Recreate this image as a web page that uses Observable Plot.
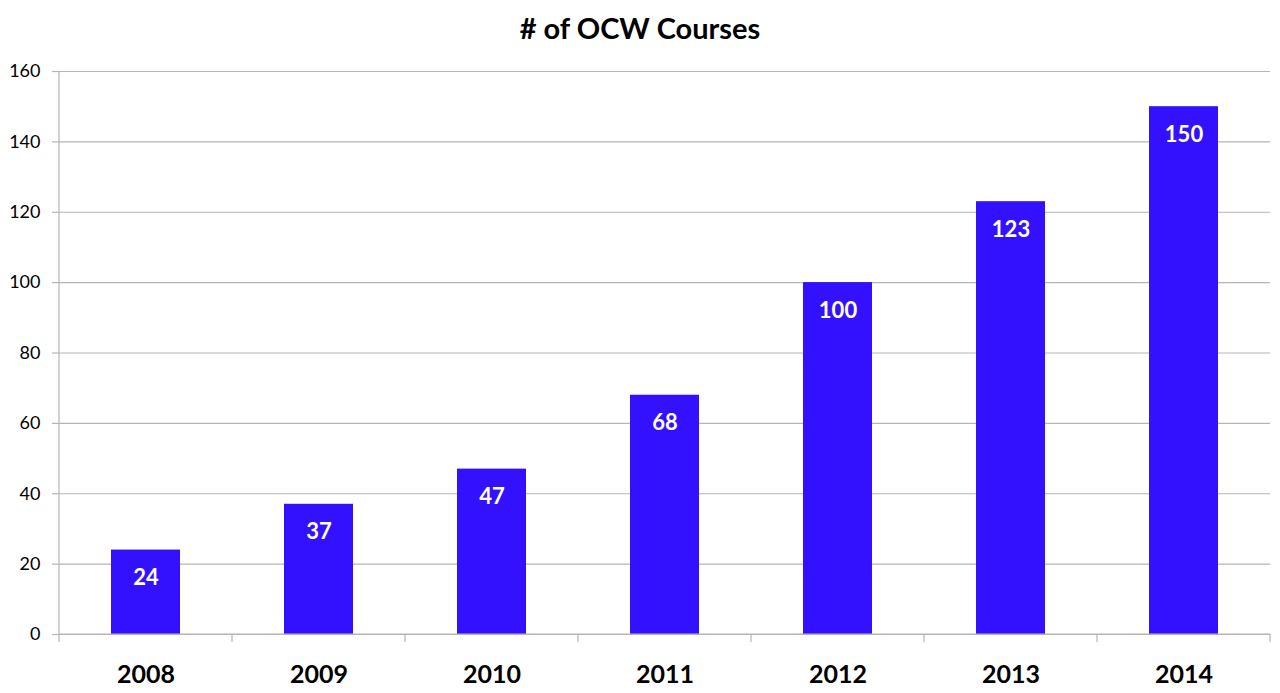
<!DOCTYPE html>
<html>
<head>
<meta charset="utf-8">
<script src="https://cdn.jsdelivr.net/npm/d3@7"></script>
<script src="https://cdn.jsdelivr.net/npm/@observablehq/plot@0.6"></script>
<style>
  body { margin: 0; background: #fff; font-family: Lato, "Open Sans", sans-serif; }
  #title { height: 56px; line-height: 56px; text-align: center; font-weight: bold; font-size: 29px; color: #000; }
</style>
</head>
<body>
<div id="title"># of OCW Courses</div>
<div id="chart"></div>
<script>
const years = ["2008", "2009", "2010", "2011", "2012", "2013", "2014"];
const courses = [24, 37, 47, 68, 100, 123, 150];
const yTicks = [0, 20, 40, 60, 80, 100, 120, 140, 160];

const data = years.map((y, i) => ({year: y, value: courses[i]}));
const W = 1280, H = 637, mL = 59, mR = 10;
const barColor = "#3311ff";
const gray = "#b5b5b5";

const chart = Plot.plot({
  width: W,
  height: H,
  marginTop: 15,
  marginBottom: 59,
  marginLeft: mL,
  marginRight: mR,
  style: {fontFamily: "Lato, 'Open Sans', sans-serif", background: "#fff", overflow: "visible"},
  x: {domain: years, padding: 0, label: null},
  y: {domain: [0, 160], label: null},
  marks: [
    Plot.gridY(yTicks, {stroke: gray, strokeOpacity: 1, strokeWidth: 1.2}),
    Plot.axisY({ticks: yTicks, tickSize: 7, tickPadding: 12, stroke: gray, fontSize: 18, fill: "#000", label: null, strokeWidth: 1.2}),
    Plot.barY(data, {x: "year", y: "value", fill: barColor, insetLeft: 52, insetRight: 52}),
    Plot.text(data, {x: "year", y: "value", text: d => String(d.value), dy: 28, fill: "#fff", fontSize: 22, fontWeight: "bold"}),
    Plot.axisX({tickSize: 0, tickPadding: 31, fontSize: 25, fontWeight: "bold", fill: "#000", label: null})
  ]
});
document.getElementById("chart").appendChild(chart);

// Axis lines and category boundary ticks, positioned from the chart's own scales
const svg = d3.select(chart);
const xs = chart.scale("x"), ys = chart.scale("y");
const bounds = years.map(y => xs.apply(y)).concat([xs.apply(years[years.length - 1]) + xs.bandwidth]);
const y0 = ys.apply(0), yTop = ys.apply(160);
const g = svg.append("g").attr("stroke", gray).attr("stroke-width", 1.2);
g.append("line").attr("x1", bounds[0]).attr("x2", bounds[0]).attr("y1", yTop).attr("y2", y0 + 8);
g.append("line").attr("x1", bounds[0]).attr("x2", bounds[bounds.length - 1]).attr("y1", y0).attr("y2", y0);
g.selectAll("line.b").data(bounds.slice(1)).join("line").attr("class", "b")
  .attr("x1", d => d).attr("x2", d => d)
  .attr("y1", y0).attr("y2", y0 + 8);
</script>
</body>
</html>
